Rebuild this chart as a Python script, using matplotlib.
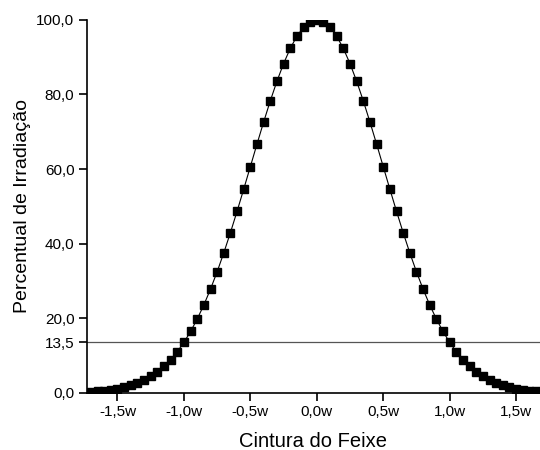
import matplotlib
matplotlib.use("Agg")
import matplotlib.pyplot as plt

plt.rcParams['font.family'] = ['Liberation Sans', 'DejaVu Sans']

# beam position, in units of the beam waist w
beam_x = [-1.70, -1.65, -1.60, -1.55, -1.50, -1.45, -1.40, -1.35, -1.30, -1.25,
          -1.20, -1.15, -1.10, -1.05, -1.00, -0.95, -0.90, -0.85, -0.80, -0.75,
          -0.70, -0.65, -0.60, -0.55, -0.50, -0.45, -0.40, -0.35, -0.30, -0.25,
          -0.20, -0.15, -0.10, -0.05, 0.00, 0.05, 0.10, 0.15, 0.20, 0.25,
          0.30, 0.35, 0.40, 0.45, 0.50, 0.55, 0.60, 0.65, 0.70, 0.75,
          0.80, 0.85, 0.90, 0.95, 1.00, 1.05, 1.10, 1.15, 1.20, 1.25,
          1.30, 1.35, 1.40, 1.45, 1.50, 1.55, 1.60, 1.65, 1.70]

# irradiance percentage
irradiance = [0.31, 0.43, 0.60, 0.82, 1.11, 1.49, 1.98, 2.61, 3.40, 4.39,
              5.61, 7.10, 8.89, 11.03, 13.53, 16.45, 19.79, 23.57, 27.80, 32.47,
              37.53, 42.96, 48.68, 54.61, 60.65, 66.70, 72.61, 78.27, 83.53, 88.25,
              92.31, 95.60, 98.02, 99.50, 100.0, 99.50, 98.02, 95.60, 92.31, 88.25,
              83.53, 78.27, 72.61, 66.70, 60.65, 54.61, 48.68, 42.96, 37.53, 32.47,
              27.80, 23.57, 19.79, 16.45, 13.53, 11.03, 8.89, 7.10, 5.61, 4.39,
              3.40, 2.61, 1.98, 1.49, 1.11, 0.82, 0.60, 0.43, 0.31]

threshold = 13.5

x_ticks = [-1.5, -1.0, -0.5, 0.0, 0.5, 1.0, 1.5]
x_labels = ['-1,5w', '-1,0w', '-0,5w', '0,0w', '0,5w', '1,0w', '1,5w']
y_ticks = [0, 13.5, 20, 40, 60, 80, 100]
y_labels = ['0,0', '13,5', '20,0', '40,0', '60,0', '80,0', '100,0']

fig = plt.figure(figsize=(5.4, 4.5), dpi=100)
ax = fig.add_axes([0.161, 0.127, 0.839, 0.829])

ax.axhline(threshold, color='#555555', lw=0.9, zorder=1)
# markers get clipped at the axes box, like in the original
ax.plot(beam_x, irradiance, color='black', lw=0.8, marker='s', ms=6,
        markerfacecolor='black', markeredgecolor='black', zorder=3)

ax.set_xlim(-1.73, 1.68)
ax.set_ylim(0, 100)

ax.set_xticks(x_ticks)
ax.set_xticklabels(x_labels)
ax.set_yticks(y_ticks)
ax.set_yticklabels(y_labels)

ax.spines['top'].set_visible(False)
ax.spines['right'].set_visible(False)
ax.spines['left'].set_linewidth(1.2)
ax.spines['bottom'].set_linewidth(1.2)
ax.tick_params(direction='out', length=6, width=1.2, labelsize=11, pad=3)

ax.set_xlabel('Cintura do Feixe', fontsize=14.5, labelpad=9)
ax.set_ylabel('Percentual de Irradiação', fontsize=14, labelpad=4)

fig.savefig('out.png', dpi=100)
